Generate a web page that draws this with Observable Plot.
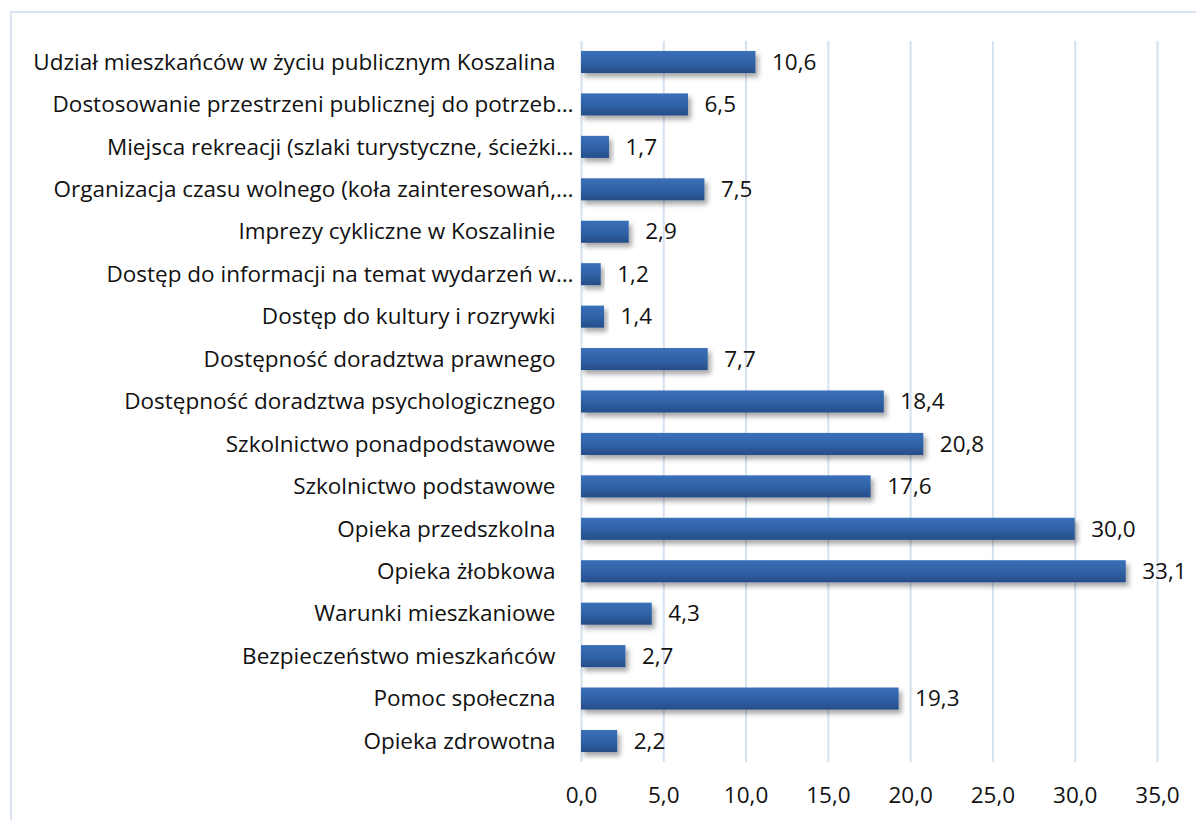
<!DOCTYPE html>
<html><head><meta charset="utf-8">
<script src="https://cdn.jsdelivr.net/npm/d3@7"></script>
<script src="https://cdn.jsdelivr.net/npm/@observablehq/plot@0.6"></script>
<style>
body{margin:0;background:#fff;overflow:hidden}
#frame{position:absolute;left:10px;top:11px;width:1200px;height:820px;border-left:2px solid #DAE3F1;border-top:2px solid #DAE3F1}
#chart{position:absolute;left:0;top:0}
</style>
</head><body>
<div id="frame"></div>
<div id="chart"></div>
<script>
const categories = [
  "Udział mieszkańców w życiu publicznym Koszalina",
  "Dostosowanie przestrzeni publicznej do potrzeb…",
  "Miejsca rekreacji (szlaki turystyczne, ścieżki…",
  "Organizacja czasu wolnego (koła zainteresowań,…",
  "Imprezy cykliczne w Koszalinie",
  "Dostęp do informacji na temat wydarzeń w…",
  "Dostęp do kultury i rozrywki",
  "Dostępność doradztwa prawnego",
  "Dostępność doradztwa psychologicznego",
  "Szkolnictwo ponadpodstawowe",
  "Szkolnictwo podstawowe",
  "Opieka przedszkolna",
  "Opieka żłobkowa",
  "Warunki mieszkaniowe",
  "Bezpieczeństwo mieszkańców",
  "Pomoc społeczna",
  "Opieka zdrowotna"
];
const values = [10.6, 6.5, 1.7, 7.5, 2.9, 1.2, 1.4, 7.7, 18.4, 20.8, 17.6, 30.0, 33.1, 4.3, 2.7, 19.3, 2.2];
const xTicks = [0, 5, 10, 15, 20, 25, 30, 35];

const fmt = d => d.toFixed(1).replace(".", ",");
const data = categories.map((c, i) => ({category: c, value: values[i], trunc: c.endsWith("…")}));
const FS = 22.5;

const chart = Plot.plot({
  width: 1196, height: 820,
  marginLeft: 581, marginRight: 39, marginTop: 41, marginBottom: 58,
  x: {domain: [0, 35], label: null},
  y: {domain: categories, paddingInner: 0.48, paddingOuter: 0.235, round: false, axis: null},
  style: {fontFamily: "'Open Sans', sans-serif", fontSize: FS + "px", color: "#111", background: "transparent"},
  marks: [
    Plot.gridX(xTicks, {stroke: "#D6E1F0", strokeOpacity: 1, strokeWidth: 2}),
    Plot.axisX(xTicks, {tickSize: 0, tickPadding: 25, tickFormat: fmt, label: null, fontSize: FS}),
    Plot.barX(data, {x: "value", y: "category", fill: "url(#barGrad)"}),
    Plot.text(data, {x: "value", y: "category", text: d => fmt(d.value), textAnchor: "start", dx: 16, fontSize: FS, fill: "#111"}),
    Plot.text(data.filter(d => d.trunc), {x: 0, y: "category", text: "category", textAnchor: "end", dx: -8, fontSize: FS, fill: "#111"}),
    Plot.text(data.filter(d => !d.trunc), {x: 0, y: "category", text: "category", textAnchor: "end", dx: -26, fontSize: FS, fill: "#111"})
  ]
});

const svg = d3.select(chart);
const defs = svg.insert("defs", ":first-child");
const g = defs.append("linearGradient").attr("id", "barGrad").attr("x1", 0).attr("y1", 0).attr("x2", 0).attr("y2", 1);
g.append("stop").attr("offset", "0%").attr("stop-color", "#3A70B9");
g.append("stop").attr("offset", "50%").attr("stop-color", "#3063A7");
g.append("stop").attr("offset", "100%").attr("stop-color", "#264D88");
const f = defs.append("filter").attr("id", "shadow").attr("x", "-10%").attr("y", "-30%").attr("width", "130%").attr("height", "190%");
f.append("feDropShadow").attr("dx", 3).attr("dy", 4).attr("stdDeviation", 2.5).attr("flood-color", "#000").attr("flood-opacity", 0.35);
svg.selectAll("g[aria-label='bar'] rect").attr("filter", "url(#shadow)");

document.getElementById("chart").appendChild(chart);
</script>
</body></html>
